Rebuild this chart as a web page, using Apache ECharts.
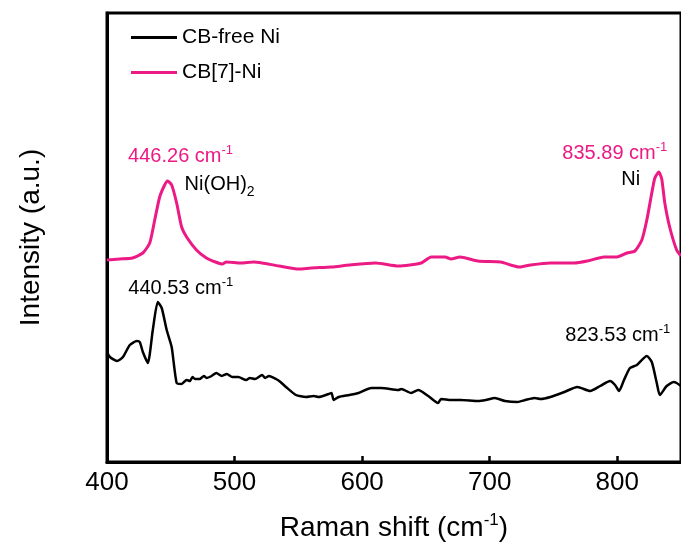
<!DOCTYPE html>
<html>
<head>
<meta charset="utf-8">
<script src="https://cdn.jsdelivr.net/npm/echarts@6/dist/echarts.min.js"></script>
<style>html,body{margin:0;padding:0;background:#fff;}#c{width:681px;height:551px;}</style>
</head>
<body>
<div id="c"></div>
<script>
// CB-free Ni (black)
var blackX = [400,402.3,407.8,412.5,417.9,423.4,425.7,428.1,432,435.9,439.8,442.9,446.8,450.7,454.6,458.5,462.4,465,467,469,472.5,476,478,482,485.7,490,494,498.2,503,509.1,512,516,521.6,524,527,532.5,536,540.3,548.1,555.9,562,566,573.8,576,577.7,581.6,590,597.2,607.3,615.1,628.4,630.7,638.5,644,651.8,659.5,661.9,670,677.5,690.7,697,704,712,721.9,728,735.1,740,747.6,758.5,768.7,778.8,786.6,794.4,798.3,801.4,805.3,810,815.4,823.2,827.1,831,833.4,838.8,844.3,846.6,850];
var blackY = [110,105,101,105,117,121,120,110,99,132,160,154,132,115,79,78,82,81,85,83,83,86,84,86,89,86,88,85,85,82,84,83,87,84,86,83,80,75,67,65,66,65,68,69,62,65,67,69,74,74,72,73,69,72,66,59,63,62,62,61,62,64,61,60,62,64,63,65,70,75,71,76,81,77,71,82,94,97,106,100,79,67,76,80,79,76];
// CB[7]-Ni (pink)
var pinkX = [400,410,420,428.1,433.5,437.4,441.3,445.2,447.5,450.7,454.6,458.5,462.4,470.1,477.9,485,490.4,493.5,505,515,521.6,535,550.4,560,576.1,590,610.4,628.4,646.3,654.1,665,669.7,676.7,690.7,708.7,716.4,723.5,732,747.6,766.3,776.5,789.7,799.8,807.6,813.9,819.3,823.2,827.1,829.5,832.6,834.9,837.3,841.1,846.6,850];
var pinkY = [202,203,204,209,219,242,265,277,281,277,259,235,225,212,204,200,198,200,199,200,199,196,193,194,195,197,199,196,199,205,205,203,205,201,200,197,195,197,199,199,201,205,205,209,211,222,242,269,284,290,283,259,235,212,206];
var xTicks = [400,500,600,700,800];
var seriesNames = ['CB-free Ni','CB[7]-Ni'];

function pairs(xs, ys){ return xs.map(function(x,i){return [x, ys[i]];}); }

var PINK = '#ec1a84';
var FONT = 'Liberation Sans, Arial, sans-serif';
var rich = {
  a:{fontSize:20, fontFamily:FONT, verticalAlign:'bottom', lineHeight:21},
  s:{fontSize:13, fontFamily:FONT, verticalAlign:'bottom', padding:[0,0,9,0]},
  n:{fontSize:20, fontFamily:FONT, verticalAlign:'bottom', padding:[0,0,5,0], lineHeight:21},
  b:{fontSize:14, fontFamily:FONT, verticalAlign:'bottom'}
};
function peakMark(x, y, text, color, off){
  return {coord:[x,y], symbolSize:0, label:{show:true, position:'inside', offset:off, color:color, formatter:text, rich:rich}};
}

var chart = echarts.init(document.getElementById('c'));
chart.setOption({
  animation:false,
  backgroundColor:'#fff',
  grid:{left:107, top:13, right:-4, bottom:89, show:true, borderColor:'#000', borderWidth:3, containLabel:false},
  legend:{
    orient:'vertical', left:131, top:27, padding:0, itemWidth:46, itemHeight:3, itemGap:14, itemTextGap:6,
    icon:'rect',
    textStyle:{fontSize:21, fontFamily:FONT, color:'#000', lineHeight:20},
    data:seriesNames
  },
  xAxis:{
    type:'value', min:400, max:850, interval:100,
    axisLine:{show:true, lineStyle:{color:'#000', width:3}},
    axisTick:{show:true, inside:true, length:6, lineStyle:{color:'#000', width:2.5}},
    axisLabel:{fontSize:26, fontFamily:FONT, color:'#000', margin:8, showMaxLabel:false,
      formatter:function(v){ return xTicks.indexOf(v) >= 0 ? String(v) : ''; }},
    splitLine:{show:false},
    name:'{a|Raman shift (cm}{s|-1}{a|)}',
    nameLocation:'middle', nameGap:50,
    nameTextStyle:{color:'#000', rich:{
      a:{fontSize:28, fontFamily:FONT, color:'#000', verticalAlign:'bottom', lineHeight:30},
      s:{fontSize:17, fontFamily:FONT, color:'#000', verticalAlign:'bottom', padding:[0,0,13,0]}
    }}
  },
  yAxis:{
    type:'value', min:0, max:449,
    axisLine:{show:true, lineStyle:{color:'#000', width:3}},
    axisTick:{show:false}, axisLabel:{show:false}, splitLine:{show:false},
    name:'Intensity (a.u.)', nameLocation:'middle', nameGap:62,
    nameTextStyle:{fontSize:28, fontFamily:FONT, color:'#000'}
  },
  series:[
    {
      name:seriesNames[0], type:'line', data:pairs(blackX, blackY), showSymbol:false, symbol:'none',
      smooth:0.2,
      lineStyle:{color:'#000', width:2.5}, itemStyle:{color:'#000'},
      markPoint:{symbol:'circle', symbolSize:0, data:[
        peakMark(439.8, 160, '{a|440.53 cm}{s|-1}', '#000', [23,-15]),
        peakMark(823.2, 106, '{a|823.53 cm}{s|-1}', '#000', [-29,-22])
      ]}
    },
    {
      name:seriesNames[1], type:'line', data:pairs(pinkX, pinkY), showSymbol:false, symbol:'none',
      smooth:0.2,
      lineStyle:{color:PINK, width:3}, itemStyle:{color:PINK},
      markPoint:{symbol:'circle', symbolSize:0, data:[
        peakMark(447.5, 281, '{a|446.26 cm}{s|-1}', PINK, [13,-26]),
        peakMark(447.5, 281, '{n|Ni(OH)}{b|2}', '#000', [52,8]),
        peakMark(832.6, 290, '{a|835.89 cm}{s|-1}', PINK, [-44,-20]),
        peakMark(832.6, 290, '{a|Ni}', '#000', [-28,7])
      ]}
    }
  ]
});
</script>
</body>
</html>
